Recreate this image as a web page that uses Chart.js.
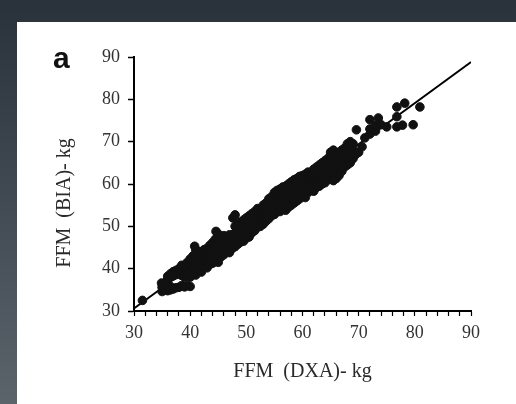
<!DOCTYPE html>
<html>
<head>
<meta charset="utf-8">
<script src="https://cdn.jsdelivr.net/npm/chart.js@4.4.0/dist/chart.umd.min.js"></script>
<style>
  html, body { margin: 0; padding: 0; }
  body {
    width: 516px; height: 404px; overflow: hidden; position: relative;
    background: linear-gradient(to bottom, #29313b 0%, #3f4851 45%, #5b636b 100%);
  }
  #panel { position: absolute; left: 17px; top: 22px; right: 0; bottom: 0; background: #fff; }
  #wrap { position: absolute; left: 0; top: 0; width: 516px; height: 404px; }
  #tag {
    position: absolute; left: 53px; top: 41px;
    font: bold 30px "Liberation Sans", Arial, sans-serif; color: #111;
  }
</style>
</head>
<body>
<div id="panel"></div>
<div id="wrap"><canvas id="myChart" width="516" height="404"></canvas></div>
<div id="tag">a</div>
<script>
// FFM (DXA) vs FFM (BIA), kg
var scatterPairs = [
  [31.5,32.5],
  [34.9,36.6],[35,34.6],[35,35.6],[35.5,35.0],[35.5,36.2],
  [36,34.8],[36,37.5],[36,38.2],[36.5,35.0],[36.5,35.8],[36.5,38.8],
  [37,35.2],[37,38.3],[37,39.3],[37.5,35.5],[37.5,38.6],[37.5,39.6],
  [38,35.6],[38,38.8],[38,40.0],[38.5,36.0],[38.5,38.4],[38.5,39.8],[38.5,40.8],
  [39,35.7],[39,38.0],[39,39.2],[39,40.8],[39.5,36.0],[39.5,38.6],[39.5,40.2],[39.5,41.5],
  [40,35.8],[40,38.0],[40,39.5],[40,41.0],[40,42.3],[40.5,39.0],[40.5,40.4],[40.5,42.0],[40.5,43.0],[40.8,45.3],
  [41,38.5],[41,40.0],[41,41.5],[41,43.5],[41,44.5],[41.5,39.5],[41.5,41.0],[41.5,42.5],[41.5,44.0],
  [42,39.2],[42,40.5],[42,42.0],[42,43.2],[42.5,40.5],[42.5,41.8],[42.5,43.5],[42.5,44.5],
  [43,40.2],[43,42.0],[43,43.3],[43,44.8],[43.5,41.0],[43.5,42.8],[43.5,44.3],[43.5,45.5],
  [44,41.3],[44,43.0],[44,44.5],[44,46.2],[44.5,42.0],[44.5,43.8],[44.5,45.5],[44.5,47.0],[44.6,48.8],
  [45,41.5],[45,43.2],[45,45.0],[45,46.5],[45,48.2],[45.5,42.8],[45.5,44.5],[45.5,46.0],[45.5,47.5],
  [46,43.3],[46,45.0],[46,46.8],[46,47.8],[46.5,44.0],[46.5,45.8],[46.5,47.2],
  [47,43.8],[47,45.5],[47,47.0],[47,48.0],[47.5,44.8],[47.5,46.4],[47.5,47.8],[47.6,52.0],
  [48,45.2],[48,47.0],[48,48.5],[48,50.0],[48,52.7],[48.5,45.8],[48.5,47.5],[48.5,49.0],[48.5,50.5],
  [49,46.3],[49,48.0],[49,49.5],[49,51.0],[49.5,46.5],[49.5,48.5],[49.5,50.0],[49.5,51.5],
  [50,47.2],[50,49.0],[50,50.5],[50,52.0],[50.5,47.5],[50.5,49.5],[50.5,51.0],[50.5,52.5],
  [51,48.5],[51,50.2],[51,51.8],[51,53.0],[51.5,49.0],[51.5,50.8],[51.5,52.3],[51.5,53.5],
  [52,49.8],[52,51.5],[52,53.0],[52,54.2],[52.5,50.0],[52.5,52.0],[52.5,53.5],
  [53,50.5],[53,52.5],[53,54.0],[53,55.0],[53.5,51.2],[53.5,53.0],[53.5,54.5],[53.5,55.5],
  [54,51.8],[54,53.5],[54,55.0],[54,56.5],[54.5,52.5],[54.5,54.2],[54.5,55.8],[54.5,57.0],
  [55,52.8],[55,54.8],[55,56.5],[55,58.0],[55.5,53.5],[55.5,55.2],[55.5,57.0],[55.5,58.5],
  [56,53.5],[56,55.5],[56,57.3],[56,58.8],[56.5,54.0],[56.5,56.0],[56.5,57.8],[56.5,59.3],
  [57,53.8],[57,55.5],[57,57.5],[57,59.5],[57.5,54.5],[57.5,56.5],[57.5,58.3],[57.5,60.0],
  [58,55.0],[58,57.0],[58,58.8],[58,60.5],[58.5,55.5],[58.5,57.5],[58.5,59.3],[58.5,61.0],
  [59,56.0],[59,58.0],[59,59.8],[59,61.3],[59.5,56.5],[59.5,58.5],[59.5,60.3],[59.5,61.8],
  [60,57.0],[60,59.0],[60,60.8],[60,62.0],[60.5,56.8],[60.5,58.5],[60.5,60.5],[60.5,62.3],
  [61,58.0],[61,59.8],[61,61.5],[61,62.8],[61.5,58.5],[61.5,60.2],[61.5,62.0],
  [62,58.3],[62,60.5],[62,62.3],[62,63.5],[62.5,59.2],[62.5,61.0],[62.5,62.8],[62.5,64.0],
  [63,59.5],[63,61.5],[63,63.2],[63,64.5],[63.5,60.0],[63.5,62.0],[63.5,63.8],[63.5,65.0],
  [64,60.3],[64,62.5],[64,64.3],[64,65.5],[64.5,61.0],[64.5,63.0],[64.5,64.8],[64.5,66.0],
  [65,61.5],[65,63.5],[65,65.3],[65,66.8],[65,67.5],[65.5,60.8],[65.5,62.5],[65.5,64.5],[65.5,66.0],[65.5,68.0],
  [66,61.3],[66,63.0],[66,65.0],[66,67.0],[66.5,62.0],[66.5,64.0],[66.5,65.8],[66.5,67.5],
  [67,63.0],[67,64.8],[67,66.5],[67,68.0],[67.5,64.0],[67.5,65.5],[67.5,67.0],[67.5,68.5],
  [68,64.5],[68,66.0],[68,67.8],[68,69.5],[68.5,65.0],[68.5,66.5],[68.5,68.5],[68.5,70.0],
  [69,66.0],[69,68.0],[69,69.5],[69.5,67.0],[69.6,72.8],[70,67.5],
  [70.6,68.8],[71.1,70.9],[72,71.8],[72,73.0],[72,75.2],[73,72.5],[73,73.8],[73.5,75.6],
  [74,74.0],[75,73.5],[76.8,73.5],[76.8,75.9],[76.8,78.2],[77.8,73.9],[78.2,79.1],
  [79.7,74.0],[80.9,78.2]
];
var fitLineX = [30, 90];
var fitLineY = [30.6, 88.8];
var axisMin = 30, axisMax = 90;

var scatterData = scatterPairs.map(function (p) { return { x: p[0], y: p[1] }; });
var lineData = fitLineX.map(function (v, i) { return { x: v, y: fitLineY[i] }; });

var serif = '"Liberation Serif", "Times New Roman", serif';

// y 축 제목 (회전 텍스트)
var yTitlePlugin = {
  id: 'yTitle',
  afterDraw: function (chart) {
    var ctx = chart.ctx;
    ctx.save();
    ctx.translate(65, 203);
    ctx.rotate(-Math.PI / 2);
    ctx.font = '20px ' + serif;
    ctx.fillStyle = '#2a2a2a';
    ctx.textAlign = 'center';
    ctx.textBaseline = 'middle';
    ctx.fillText('FFM  (BIA)- kg', 0, 0);
    ctx.restore();
  }
};

var ctx = document.getElementById('myChart').getContext('2d');
new Chart(ctx, {
  type: 'scatter',
  data: {
    datasets: [{
      label: 'FFM',
      data: scatterData,
      backgroundColor: '#111',
      borderColor: '#111',
      pointRadius: 4.3,
      pointHoverRadius: 4.3,
      order: 1
    }, {
      type: 'line',
      label: 'fit',
      data: lineData,
      borderColor: '#000',
      borderWidth: 1.8,
      pointRadius: 0,
      fill: false,
      order: 2
    }]
  },
  options: {
    responsive: false,
    animation: false,
    layout: { padding: { top: 57, right: 45, left: 0, bottom: 0 } },
    plugins: { legend: { display: false }, tooltip: { enabled: false } },
    scales: {
      x: {
        type: 'linear', min: axisMin, max: axisMax,
        afterFit: function (s) { s.height = 93; },
        grid: { drawOnChartArea: false, tickLength: 5, tickColor: '#000', tickWidth: 1.2 },
        border: { color: '#000', width: 2 },
        ticks: {
          stepSize: 2, autoSkip: false, maxRotation: 0, padding: 6,
          color: '#333', font: { family: serif, size: 18 },
          callback: function (v) { return v % 10 === 0 ? v : ''; }
        },
        title: {
          display: true, text: 'FFM  (DXA)- kg', color: '#2a2a2a',
          font: { family: serif, size: 20 }, padding: { top: 0, bottom: 20 }
        }
      },
      y: {
        type: 'linear', min: axisMin, max: axisMax,
        afterFit: function (s) { s.width = 134; },
        grid: { drawOnChartArea: false, tickLength: 6, tickColor: '#000', tickWidth: 1.5 },
        border: { color: '#000', width: 2 },
        ticks: { stepSize: 10, padding: 8, color: '#333', font: { family: serif, size: 18 } }
      }
    }
  },
  plugins: [yTitlePlugin]
});
</script>
</body>
</html>
